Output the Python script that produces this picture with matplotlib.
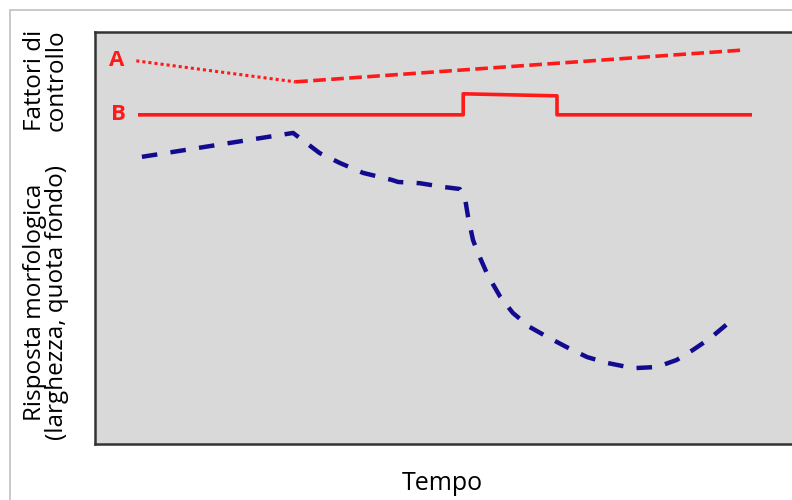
import matplotlib
matplotlib.use('agg')
from matplotlib import pyplot as plt  # pylint: disable=C0413
from matplotlib.patches import Rectangle  # pylint: disable=C0413

# time axis 0..100, response axis 0..100 (arbitrary units)
A_DOT_T = [5.9, 28.6]
A_DOT_V = [93.0, 87.9]
A_DASH_T = [28.6, 92.4]
A_DASH_V = [87.9, 95.6]

B_T = [6.4, 52.6, 52.6, 66.0, 66.0, 93.6]
B_V = [79.9, 79.9, 85.0, 84.5, 79.9, 79.9]

RESP_T = [6.7, 28.3, 30.0, 32.1, 35.0, 38.3, 42.4, 43.3, 46.4, 49.7, 52.1,
          52.9, 53.3, 54.0, 54.7, 56.1, 57.9, 59.7, 62.1, 64.6, 67.4, 70.3,
          73.1, 76.9, 80.3, 83.1, 85.4, 87.9, 90.3]
RESP_V = [69.7, 75.5, 73.3, 70.6, 68.2, 65.8, 64.1, 63.6, 63.3, 62.4, 61.9,
          59.2, 55.1, 49.5, 46.4, 41.0, 35.7, 31.8, 28.4, 26.0, 23.5, 21.1,
          19.7, 18.4, 18.7, 20.4, 22.8, 25.7, 29.1]

RED = '#ff1a1a'
BLUE = '#120a8f'

plt.rcParams['font.family'] = ['Open Sans', 'DejaVu Sans']

fig = plt.figure(figsize=(7.92, 5.0), dpi=100)
fig.patches.append(Rectangle((10 / 792, -0.1), 1.2, 1.1 - 10 / 500,
                             transform=fig.transFigure, fill=False,
                             edgecolor='#c0c0c0', linewidth=1.2))

# right spine sits just past the image edge, as in the original
ax = fig.add_axes([95 / 792, 56 / 500, 700 / 792, 412 / 500])
ax.set_facecolor('#d9d9d9')
ax.set_xlim(0, 100)
ax.set_ylim(0, 100)
ax.set_xticks([])
ax.set_yticks([])
for side in ax.spines.values():
    side.set_color('#333333')
    side.set_linewidth(1.8)

ax.plot(A_DOT_T, A_DOT_V, color=RED, lw=2.2, ls=(0, (1, 1)))
ax.plot(A_DASH_T, A_DASH_V, color=RED, lw=2.6, ls=(0, (3.5, 1.5)))
ax.plot(B_T, B_V, color=RED, lw=2.6)
ax.plot(RESP_T, RESP_V, color=BLUE, lw=3.2, ls=(0, (3.5, 3)))

ax.text(3.1, 93.0, 'A', color=RED, fontsize=16, fontweight='bold',
        ha='center', va='center')
ax.text(3.3, 79.9, 'B', color=RED, fontsize=16, fontweight='bold',
        ha='center', va='center')

fig.text(442 / 792, 1 - 483 / 500, 'Tempo', fontsize=18,
         ha='center', va='center')
fig.text(46 / 792, 1 - 80 / 500, 'Fattori di\ncontrollo', fontsize=17.5,
         rotation=90, ha='center', va='center', linespacing=0.9)
fig.text(46 / 792, 1 - 302 / 500, 'Risposta morfologica\n(larghezza, quota fondo)',
         fontsize=17.5, rotation=90, ha='center', va='center', linespacing=0.9)

fig.savefig('out.png')
